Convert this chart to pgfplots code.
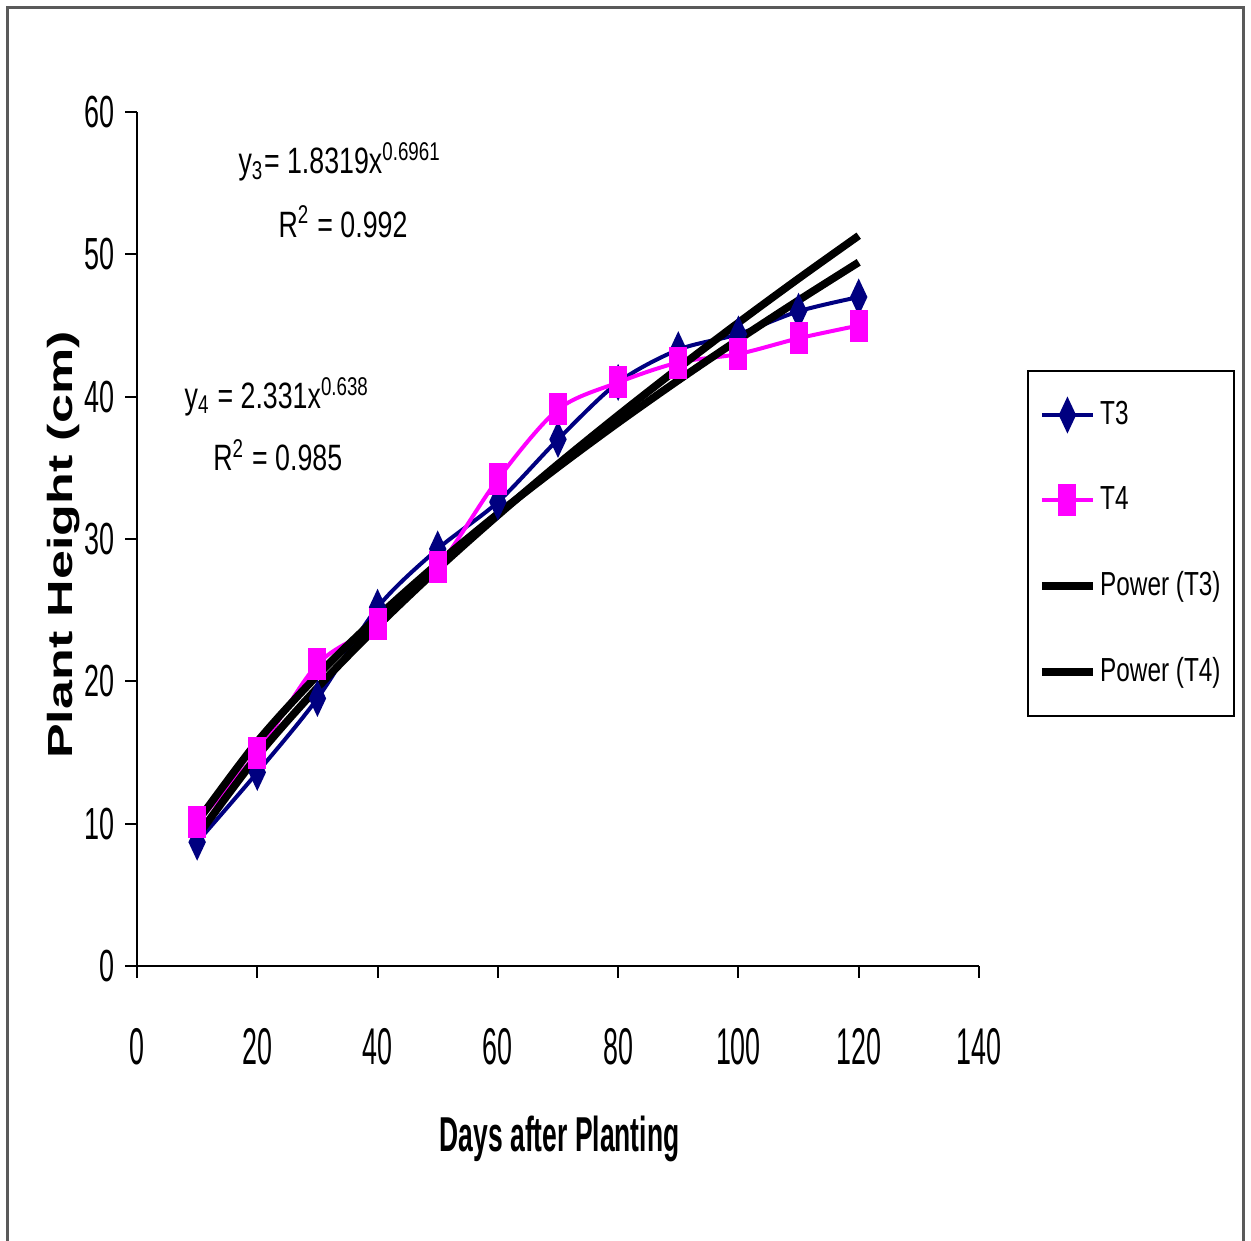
\documentclass[border=0pt]{standalone}
\usepackage{graphicx}
\usepackage{pgfplots}
\pgfplotsset{compat=1.18}
\usepackage{fontspec}
\setmainfont{Liberation Sans}
\newfontfamily\xtickfont{Liberation Sans}[FakeStretch=0.52]
\newfontfamily\ytickfont{Liberation Sans}[FakeStretch=0.6]
\newfontfamily\annfont{Liberation Sans}[FakeStretch=0.73]
\newfontfamily\legfont{Liberation Sans}[FakeStretch=0.73]
\newfontfamily\xlabfont{Liberation Sans}[FakeStretch=0.54]
\newfontfamily\ylabfont{Liberation Sans}
\definecolor{tnavy}{HTML}{000080}
\definecolor{tmag}{HTML}{FF00FF}
\definecolor{framegray}{HTML}{5A5A5A}

\pgfplotstableread{
x y
10 8.7
20 13.6
30 18.8
40 25.2
50 29.3
60 32.6
70 37.0
80 41.0
90 43.3
100 44.4
110 46.0
120 47.0
}\tthree

\pgfplotstableread{
x y
10 10.1
20 15.0
30 21.2
40 24.0
50 28.0
60 34.2
70 39.1
80 41.0
90 42.4
100 43.0
110 44.1
120 45.0
}\tfour

\pgfplotstableread{
x y
10 9.10
20 14.74
30 19.55
40 23.88
50 27.90
60 31.67
70 35.26
80 38.69
90 42.00
100 45.20
110 48.30
120 51.31
}\pthree

\pgfplotstableread{
x y
10 10.13
20 15.76
30 20.42
40 24.53
50 28.28
60 31.77
70 35.05
80 38.17
90 41.15
100 44.01
110 46.77
120 49.44
}\pfour

\begin{document}
\begin{tikzpicture}
\useasboundingbox (-41.1pt,-82.5pt) rectangle (334.2pt,289.8pt);
\draw[line width=0.9pt, framegray] (-38.7pt,-95pt) -- (-38.7pt,287.4pt) -- (331.8pt,287.4pt) -- (331.8pt,-95pt);
\begin{axis}[
  at={(0pt,0pt)}, anchor=south west,
  scale only axis, width=252.6pt, height=256.2pt,
  xmin=0, xmax=140, ymin=0, ymax=60,
  xtick={0,20,...,140}, ytick={0,10,...,60},
  axis lines=left, axis line style={-, line width=0.6pt, black},
  tick align=outside, major tick length=3.5pt,
  tick style={black, line width=0.6pt},
  /pgf/number format/assume math mode=true,
  xticklabel style={font=\xtickfont\fontsize{15.5}{18}\selectfont, yshift=-11.8pt},
  yticklabel style={font=\ytickfont\fontsize{13.5}{16}\selectfont, xshift=0.2pt},
  xlabel={Days after Planting},
  xlabel style={font=\xlabfont\bfseries\fontsize{14.7}{17}\selectfont, at={(axis description cs:0.502,-0.202)}, anchor=center},
  ylabel={\scalebox{1}[0.67]{Plant Height (cm)}},
  ylabel style={font=\ylabfont\bfseries\fontsize{15.6}{18}\selectfont, at={(axis description cs:-0.0871,0.493)}, anchor=center},
  legend style={at={(1.057,0.698)}, anchor=north west, draw=black, line width=0.6pt,
    font=\legfont\fontsize{10}{12}\selectfont, row sep=13.1pt, inner xsep=3pt, inner ysep=7pt,
    nodes={inner xsep=1pt}},
  legend cell align=left,
  legend image code/.code={\draw[mark repeat=2,mark phase=2,#1] plot coordinates {(0cm,0cm) (0.27cm,0cm) (0.54cm,0cm)};},
  clip=false,
]
\addplot[tnavy, line width=1.2pt, smooth, mark=diamond*, mark size=2.6pt, mark options={yscale=1.6, solid, fill=tnavy}] table {\tthree};
\addlegendentry{T3}
\addplot[tmag, line width=1.2pt, smooth, mark=square*, mark size=2.1pt, mark options={yscale=2, solid, fill=tmag}] table {\tfour};
\addlegendentry{T4}
\addplot[black, line width=2.3pt, smooth, no marks] table {\pthree};
\addlegendentry{Power (T3)}
\addplot[black, line width=2.3pt, smooth, no marks] table {\pfour};
\addlegendentry{Power (T4)}
\node[font=\annfont\fontsize{11}{13}\selectfont, anchor=center] at (axis cs:33.75,56.5) {y\textsubscript{3}= 1.8319x\textsuperscript{0.6961}};
\node[font=\annfont\fontsize{11}{13}\selectfont, anchor=center] at (axis cs:34.25,52.3) {R\textsuperscript{2} = 0.992};
\node[font=\annfont\fontsize{11}{13}\selectfont, anchor=center] at (axis cs:23.3,40.0) {y\textsubscript{4} = 2.331x\textsuperscript{0.638}};
\node[font=\annfont\fontsize{11}{13}\selectfont, anchor=center] at (axis cs:23.4,35.9) {R\textsuperscript{2} = 0.985};
\end{axis}
\end{tikzpicture}
\end{document}
